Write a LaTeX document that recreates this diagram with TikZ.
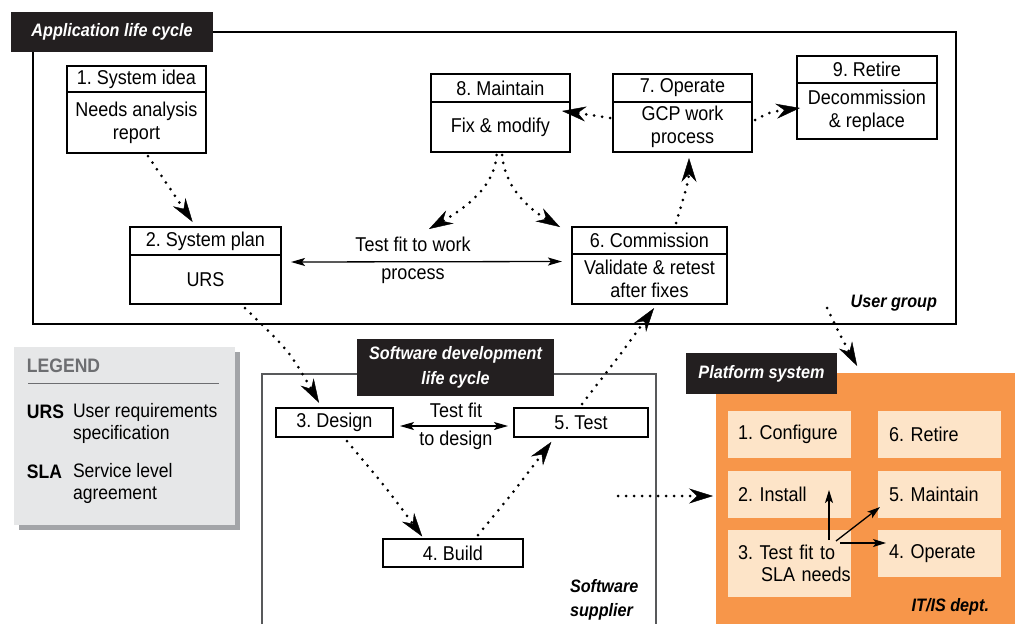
\documentclass[tikz,border=0pt]{standalone}
\usepackage{fontspec}
\setmainfont{Liberation Sans}[FakeStretch=0.9]
\usetikzlibrary{arrows.meta}
\frenchspacing
\definecolor{tblack}{HTML}{231F20}
\definecolor{plorange}{HTML}{F7964A}
\definecolor{peach}{HTML}{FDE4C8}
\definecolor{leggray}{HTML}{E6E7E8}
\definecolor{legshadow}{HTML}{A3A5A8}
\definecolor{legtext}{HTML}{6D6E71}
\definecolor{framegray}{HTML}{58595B}
\begin{document}
\frenchspacing
\begin{tikzpicture}[x=1pt,y=-1pt,
  every node/.style={inner sep=0pt, outer sep=0pt},
  bx/.style={draw=black, line width=1.2pt, anchor=north west, align=center, font=\fontsize{20}{23}\selectfont},
  ttl/.style={fill=tblack, text=white, align=center, anchor=north west, font=\fontsize{18}{25}\selectfont\bfseries\itshape},
  lbl/.style={align=center, font=\fontsize{20}{28}\selectfont},
  grp/.style={font=\fontsize{18}{24}\selectfont\bfseries\itshape, align=left},
  pbox/.style={fill=peach, anchor=north west, align=left, inner xsep=0pt, text width=123pt, minimum height=47pt, font=\fontsize{20}{22}\selectfont},
  legt/.style={anchor=west, align=left, font=\fontsize{19.5}{22}\selectfont},
  dotarrow/.style={line width=3pt, line cap=round, dash pattern=on 0pt off 8pt, -{Stealth[length=24pt,width=15pt,inset=8pt,line width=0.4pt]}},
  solidarrow/.style={line width=1.3pt, {Stealth[length=14pt,width=8pt,inset=3pt]}-{Stealth[length=14pt,width=8pt,inset=3pt]}},
  parrow/.style={line width=1.3pt, -{Stealth[length=13pt,width=8pt,inset=3pt]}},
]
\useasboundingbox (0,0) rectangle (1015,624);

% ---------- Application life cycle frame ----------
\node[ttl, minimum width=202pt, minimum height=40pt] (apptitle) at (11,12) {Application life cycle};
\draw[line width=1.3pt] (apptitle.east) -- (956,32) -- (956,324) -- (33,324) -- (33,52);

\node[bx, minimum width=139pt, minimum height=26pt] (b1h) at (67,66) {1. System idea};
\node[bx, minimum width=139pt, minimum height=61pt] (b1) at (67,92) {Needs analysis\\report};
\node[bx, minimum width=139pt, minimum height=28pt] (b8h) at (431,74) {8. Maintain};
\node[bx, minimum width=139pt, minimum height=50pt] (b8) at (431,102) {Fix \& modify};
\node[bx, minimum width=139pt, minimum height=28pt] (b7h) at (613,74) {7. Operate};
\node[bx, minimum width=139pt, minimum height=50pt] (b7) at (613,102) {GCP work\\process};
\node[bx, minimum width=140pt, minimum height=27pt] (b9h) at (797,56) {9. Retire};
\node[bx, minimum width=140pt, minimum height=56pt] (b9) at (797,83) {Decommission\\\& replace};
\node[bx, minimum width=151pt, minimum height=28pt] (b2h) at (130,227) {2. System plan};
\node[bx, minimum width=151pt, minimum height=49pt] (b2) at (130,255) {URS};
\node[bx, minimum width=155pt, minimum height=27pt] (b6h) at (572,227) {6. Commission};
\node[bx, minimum width=155pt, minimum height=50pt] (b6) at (572,254) {Validate \& retest\\after fixes};

\node[grp, anchor=east] (ug) at (937,303) {User group};

\node[lbl] (tfw) at (413,260) {Test fit to work\\process};

% ---------- Legend ----------
\fill[legshadow] (19,352) rectangle (240,530);
\fill[leggray] (14,347) rectangle (235,525);
\node[legt, text=legtext, font=\fontsize{19.5}{22}\selectfont\bfseries] (leg) at (27,366) {LEGEND};
\draw[legtext, line width=1pt] (28,383) -- (219,383);
\node[legt, font=\fontsize{19.5}{22}\selectfont\bfseries] (urs) at (27,412) {URS};
\node[legt] (ursd) at (73,423) {User requirements\\specification};
\node[legt, font=\fontsize{19.5}{22}\selectfont\bfseries] (sla) at (27,472) {SLA};
\node[legt] (slad) at (73,483) {Service level\\agreement};

% ---------- Software development life cycle ----------
\draw[line width=1.3pt, framegray] (262,624) -- (262,374) -- (656,374) -- (656,624);
\node[ttl, minimum width=197pt, minimum height=57pt] (swtitle) at (357,339) {Software development\\life cycle};
\node[bx, minimum width=117pt, minimum height=29pt] (b3) at (276,408) {3. Design};
\node[bx, minimum width=134pt, minimum height=29pt] (b5) at (514,408) {5. Test};
\node[bx, minimum width=140pt, minimum height=28pt] (b4) at (383,539) {4. Build};
\node[lbl] (tfd) at (456,426) {Test fit\\to design};
\node[grp, anchor=west] (sws) at (570,600) {Software\\supplier};

% ---------- Platform system ----------
\node[fill=plorange, minimum width=299pt, minimum height=251pt, anchor=north west] (plat) at (716,373) {};
\node[ttl, minimum width=151pt, minimum height=41pt] (pltitle) at (686,353) {Platform system};
\node[pbox] (p1) at (728,411) {\hspace*{10pt}1. Configure};
\node[pbox] (p6) at (878,411) {\hspace*{11pt}6. Retire};
\node[pbox] (p2) at (728,471) {\hspace*{10pt}2. Install};
\node[pbox] (p5) at (878,471) {\hspace*{11pt}5. Maintain};
\node[pbox, minimum height=67pt] (p3) at (728,530) {\hspace*{10pt}3. Test fit to\\\hspace*{33pt}SLA needs};
\node[pbox] (p4) at (878,530) {\hspace*{11pt}4. Operate};
\node[grp, anchor=east] (itis) at (989,607) {IT/IS dept.};

\draw[parrow] ([shift={(-22,10)}]p3.north east) -- ([shift={(-22,-28)}]p2.south east);
\draw[parrow] ([shift={(-15,11)}]p3.north east) -- ([shift={(2,-11)}]p5.south west);
\draw[parrow] ([shift={(-11,13)}]p3.north east) -- ([shift={(8,-10.5)}]p4.west);

% ---------- Connectors ----------
\coordinate (lt) at (429,229);
\coordinate (ugs) at (827,308);
\coordinate (ds) at (618,496);

\draw[dotarrow, shorten >=6pt] ([shift={(11.5,3)}]b1.south) -- ([xshift=-9.5pt]b2h.north);
\draw[dotarrow] ([shift={(-4,3)}]b8.south) .. controls (495,182) and (474,203) .. (lt);
\draw[dotarrow] ([shift={(1.5,3)}]b8.south) .. controls (505,186) and (526,207) .. ([shift={(-12,0)}]b6h.north west);
\draw[dotarrow, shorten >=6pt] ([shift={(26.5,-4)}]b6h.north) .. controls (683,200) and (689,180) .. ([xshift=6.5pt]b7.south);
\draw[dotarrow] ([shift={(-3,-9)}]b7.west) .. controls (594,115) .. ([shift={(-8,-16)}]b8.east);
\draw[dotarrow] ([shift={(3,-7)}]b7.east) .. controls (770,112) .. ([shift={(3,-3)}]b9.west);
\draw[dotarrow, shorten >=6pt] ([shift={(39.5,4)}]b2.south) .. controls (290,352) .. ([xshift=-12.5pt]b3.north);
\draw[dotarrow, shorten >=3pt] ([shift={(12.5,4)}]b3.south) .. controls (388,490) .. ([xshift=-29pt]b4.north);
\draw[dotarrow, shorten >=6pt] ([shift={(25,-4)}]b4.north) .. controls (515,490) .. ([xshift=-26pt]b5.south);
\draw[dotarrow, shorten >=5pt] ([shift={(1,-4)}]b5.north) .. controls (620,355) .. ([xshift=7.5pt]b6.south);
\draw[dotarrow, shorten >=8pt] (ugs) .. controls (840,335) .. ([xshift=-4.5pt]plat.north);
\draw[dotarrow, shorten >=3pt] (ds) -- (plat.west |- ds);

\draw[solidarrow] ([shift={(10,-17.5)}]b2.east) -- ([shift={(-10,-17.5)}]b6.west);
\draw[solidarrow] ([shift={(7,3.5)}]b3.east) -- ([shift={(-6,3.5)}]b5.west);
\end{tikzpicture}
\end{document}
